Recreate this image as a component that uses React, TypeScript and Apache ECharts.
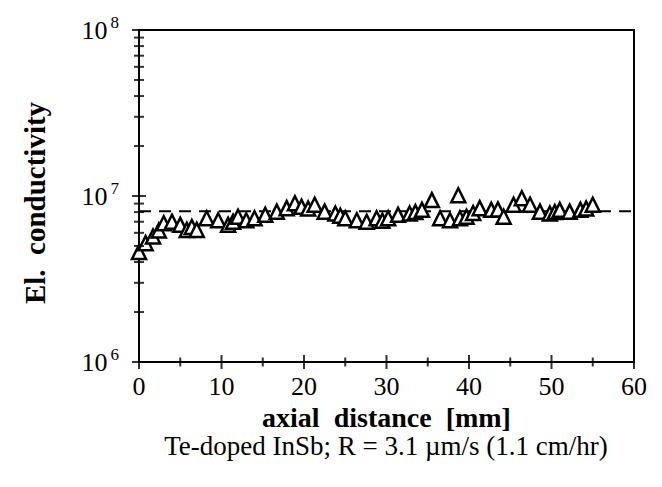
import React, { useEffect, useRef } from "react";
import * as echarts from "echarts";

const xData = [0, 0.8, 1.7, 2.4, 3.0, 4.0, 5.0, 5.8, 6.4, 7.0, 8.2, 9.6, 10.8, 11.4, 12.0, 13.0, 14.0, 15.3, 16.7, 17.9, 18.9, 19.7, 20.5, 21.3, 22.5, 23.8, 24.4, 25.0, 26.4, 27.6, 28.8, 29.5, 30.2, 31.4, 32.8, 33.5, 34.3, 35.5, 36.5, 37.7, 38.7, 38.9, 39.7, 40.5, 41.3, 42.7, 43.5, 44.2, 45.4, 46.4, 47.4, 48.6, 49.8, 50.4, 51.0, 52.2, 53.5, 54.2, 55.0];
const yData = [4.6e6, 5.2e6, 5.7e6, 6.2e6, 6.85e6, 7.0e6, 6.7e6, 6.25e6, 6.5e6, 6.25e6, 7.35e6, 7.15e6, 6.7e6, 7.0e6, 7.5e6, 7.15e6, 7.35e6, 7.7e6, 8.05e6, 8.45e6, 9.05e6, 8.6e6, 8.4e6, 8.85e6, 8.05e6, 7.85e6, 7.6e6, 7.35e6, 7.15e6, 7.0e6, 7.35e6, 7.1e6, 7.35e6, 7.7e6, 7.85e6, 8.0e6, 8.25e6, 9.45e6, 7.35e6, 7.15e6, 1.01e7, 7.35e6, 7.5e6, 7.9e6, 8.45e6, 8.25e6, 8.3e6, 7.5e6, 8.85e6, 9.7e6, 8.85e6, 8.05e6, 7.85e6, 8.0e6, 8.25e6, 8.05e6, 8.25e6, 8.4e6, 8.85e6];
const meanLevel = 8.1e6;
const xMajorTicks = [0, 10, 20, 30, 40, 50, 60];
const xMinorTicks = [5, 15, 25, 35, 45, 55];
const yMajorTicks = [1e6, 1e7, 1e8];
const yMinorTicks = [2e6, 3e6, 4e6, 5e6, 6e6, 7e6, 8e6, 9e6, 2e7, 3e7, 4e7, 5e7, 6e7, 7e7, 8e7, 9e7];

const FONT = "Liberation Serif";
const X0 = xMajorTicks[0];
const X1 = xMajorTicks[xMajorTicks.length - 1];
const Y0 = yMajorTicks[0];
const Y1 = yMajorTicks[yMajorTicks.length - 1];

function tickSeries(data: number[][], size: number[]) {
  return {
    type: "scatter",
    data,
    symbol: "rect",
    symbolSize: size,
    itemStyle: { color: "#000" },
    clip: false,
    silent: true,
    z: 5,
  };
}

export default function App() {
  const ref = useRef<HTMLDivElement>(null);
  useEffect(() => {
    if (!ref.current) return;
    const chart = echarts.init(ref.current, undefined, { renderer: "svg" });
    const points = xData.map((x, i) => [x, yData[i]]);
    chart.setOption({
      animation: false,
      backgroundColor: "#fff",
      title: {
        text: "Te-doped InSb; R = 3.1 \u00b5m/s (1.1 cm/hr)",
        left: 386,
        top: 432,
        padding: 0,
        textAlign: "center",
        textStyle: { fontFamily: FONT, fontSize: 27, lineHeight: 28, fontWeight: "normal", color: "#000" },
      },
      grid: {
        left: 139,
        top: 30,
        right: 28,
        bottom: 125,
        show: true,
        borderColor: "#000",
        borderWidth: 2,
        backgroundColor: "transparent",
      },
      xAxis: {
        type: "value",
        min: X0,
        max: X1,
        interval: 10,
        name: "axial  distance  [mm]",
        nameLocation: "middle",
        nameGap: 27,
        nameTextStyle: { fontFamily: FONT, fontSize: 28, lineHeight: 28, fontWeight: "bold", color: "#000" },
        axisLine: { show: true, onZero: false, lineStyle: { color: "#000", width: 2 } },
        axisTick: { show: false },
        axisLabel: { margin: 11, fontFamily: FONT, fontSize: 26, color: "#000" },
        splitLine: { show: false },
      },
      yAxis: {
        type: "log",
        logBase: 10,
        min: Y0,
        max: Y1,
        position: "left",
        name: "El.  conductivity",
        nameLocation: "middle",
        nameGap: 90,
        nameTextStyle: { fontFamily: FONT, fontSize: 29, fontWeight: "bold", color: "#000", padding: [0, 14, 0, 0] },
        axisLine: { show: true, onZero: false, lineStyle: { color: "#000", width: 2 } },
        axisTick: { show: false },
        axisLabel: {
          margin: 20,
          formatter: (v: number) => `{b|10}{s|${Math.round(Math.log10(v))}}`,
          rich: {
            b: { fontFamily: FONT, fontSize: 26, color: "#000" },
            s: { fontFamily: FONT, fontSize: 17, color: "#000", padding: [0, 0, 16, 3] },
          },
        },
        splitLine: { show: false },
      },
      series: [
        tickSeries(xMajorTicks.map((v) => [v, Y0]), [2, 14]),
        tickSeries(xMinorTicks.map((v) => [v, Y0]), [2, 9]),
        tickSeries(yMajorTicks.map((v) => [X0, v]), [14, 2]),
        tickSeries(yMinorTicks.map((v) => [X0, v]), [10, 2]),
        {
          type: "line",
          data: [[X0, meanLevel], [X1, meanLevel]],
          showSymbol: false,
          symbol: "none",
          lineStyle: { color: "#000", width: 2, type: [12, 8] },
          silent: true,
          z: 1,
        },
        {
          type: "scatter",
          data: points,
          symbol: "triangle",
          symbolSize: 14,
          itemStyle: { color: "#fff", borderColor: "#000", borderWidth: 2.5, opacity: 1 },
          z: 2,
        },
      ],
    });
    return () => chart.dispose();
  }, []);
  return <div ref={ref} style={{ position: "fixed", left: 0, top: 0, width: 662, height: 487 }} />;
}
